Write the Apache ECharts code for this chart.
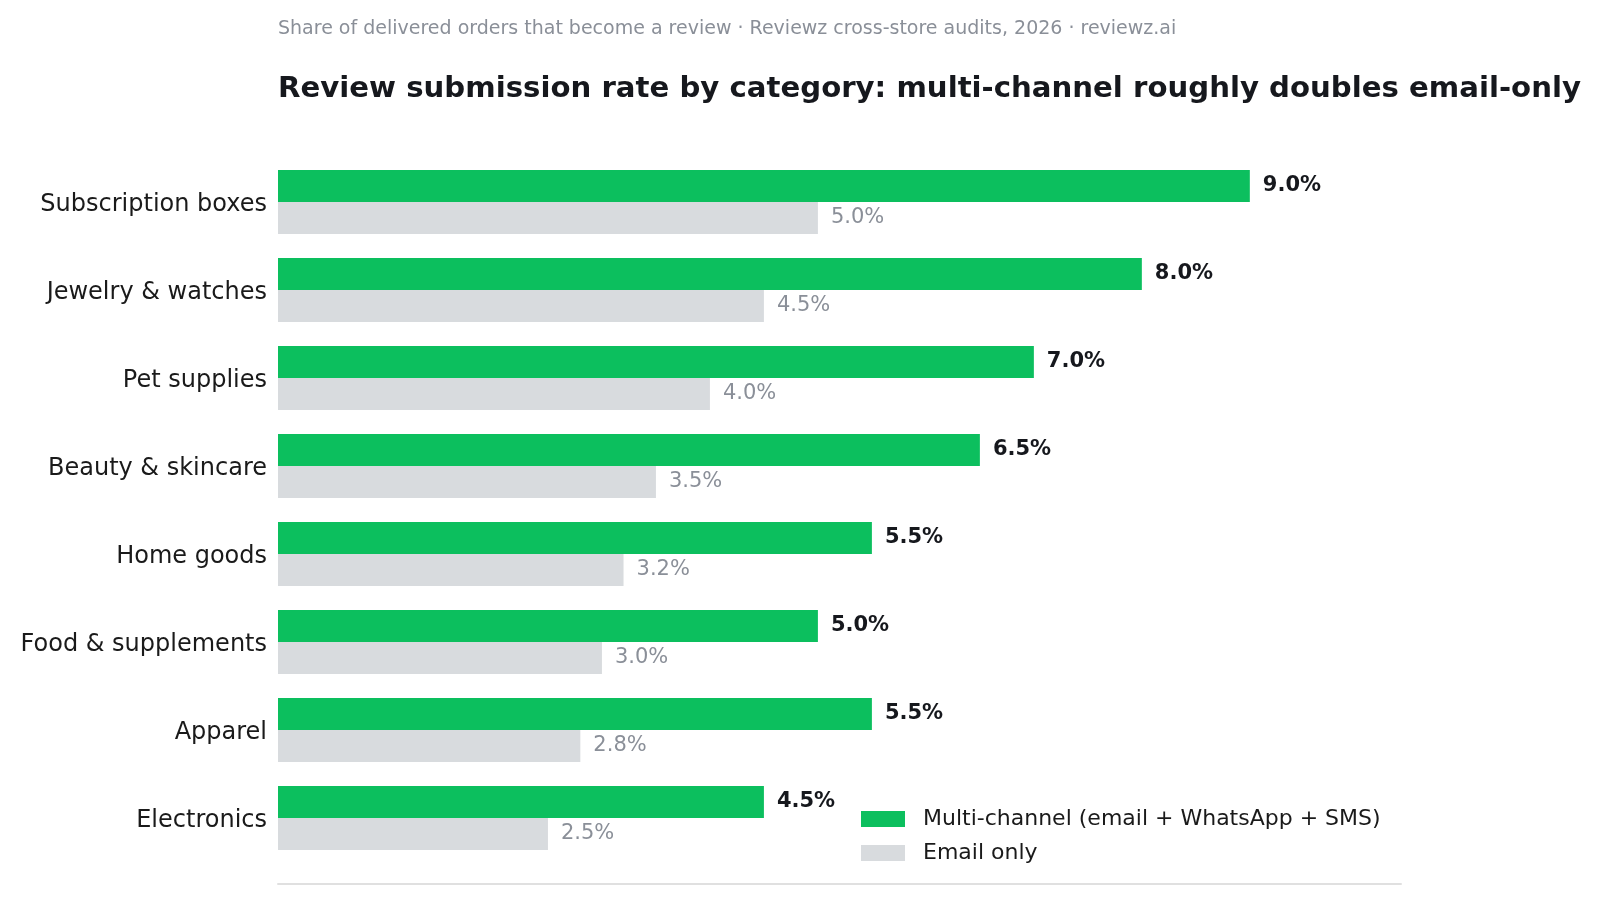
<!DOCTYPE html>
<html><head><meta charset="utf-8">
<script src="https://cdn.jsdelivr.net/npm/echarts@6/dist/echarts.min.js"></script>
<style>html,body{margin:0;padding:0;background:#fff}#c{width:1599px;height:905px}</style>
</head><body><div id="c"></div>
<script>
const categories = ["Subscription boxes","Jewelry & watches","Pet supplies","Beauty & skincare","Home goods","Food & supplements","Apparel","Electronics"];
const multiChannel = [9.0, 8.0, 7.0, 6.5, 5.5, 5.0, 5.5, 4.5];
const emailOnly = [5.0, 4.5, 4.0, 3.5, 3.2, 3.0, 2.8, 2.5];
const seriesNames = ["Multi-channel (email + WhatsApp + SMS)", "Email only"];
const titleText = "Review submission rate by category: multi-channel roughly doubles email-only";
const subtitleText = "Share of delivered orders that become a review · Reviewz cross-store audits, 2026 · reviewz.ai";

const FONT = "DejaVu Sans";
const chart = echarts.init(document.getElementById('c'), null, {renderer:'canvas'});
chart.setOption({
  animation:false,
  backgroundColor:'#ffffff',
  textStyle:{fontFamily:FONT},
  title:[
    {text:subtitleText, left:278, top:20, padding:0, textStyle:{fontFamily:FONT,fontSize:19,fontWeight:'normal',color:'#8a8f98'}},
    {text:titleText, left:278, top:75, padding:0, textStyle:{fontFamily:FONT,fontSize:29.2,fontWeight:'bold',color:'#16181d'}}
  ],
  legend:{
    data:seriesNames, orient:'vertical', left:861, top:808, padding:0,
    itemWidth:44, itemHeight:16, itemGap:12,
    formatter: name => '{t|' + name + '}',
    textStyle:{fontFamily:FONT,fontSize:22,color:'#1a1a1a',
      rich:{t:{fontFamily:FONT,fontSize:22,color:'#1a1a1a',padding:[0,0,0,13]}}},
    icon:'rect'
  },
  grid:{left:278, right:198, top:158, bottom:43, containLabel:false},
  xAxis:{type:'value', min:0, max:10.4, offset:22,
    axisLine:{show:true, lineStyle:{color:'#e0e0e0', width:2}},
    axisTick:{show:false}, axisLabel:{show:false}, splitLine:{show:false}},
  yAxis:{type:'category', data:categories, inverse:true,
    axisLine:{show:false}, axisTick:{show:false},
    axisLabel:{fontFamily:FONT, fontSize:24, color:'#1a1a1a', margin:11,
      formatter: v => '{a|' + v + '}',
      rich:{a:{fontFamily:FONT, fontSize:24, color:'#1a1a1a', padding:[6,0,0,0]}}}},
  series:[
    {name:seriesNames[0], type:'bar', data:multiChannel, barWidth:32, barGap:'0%',
      itemStyle:{color:'#0cbf5e'},
      label:{show:true, position:'right', distance:13, formatter:p=>p.value.toFixed(1)+'%',
        fontFamily:FONT, fontSize:21, fontWeight:'bold', color:'#16181d'}},
    {name:seriesNames[1], type:'bar', data:emailOnly, barWidth:32, barGap:'0%',
      itemStyle:{color:'#d8dbde'},
      label:{show:true, position:'right', distance:13, formatter:p=>p.value.toFixed(1)+'%',
        fontFamily:FONT, fontSize:21, fontWeight:'normal', color:'#8a8f98'}}
  ]
});
</script></body></html>
